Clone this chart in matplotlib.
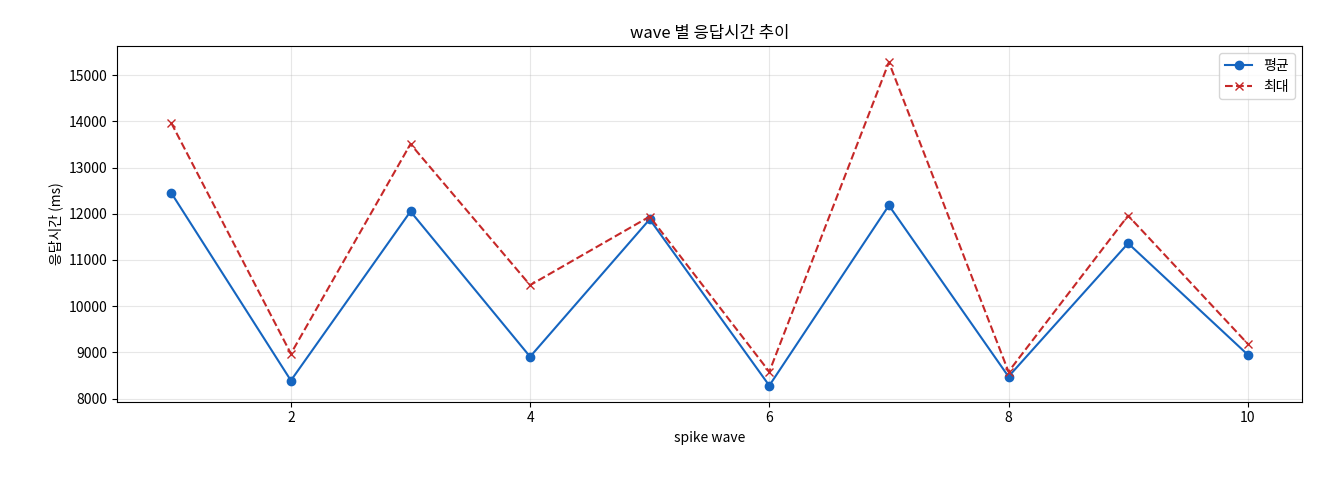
import matplotlib
matplotlib.use("Agg")
import matplotlib.pyplot as plt

plt.rcParams['font.family'] = ['Noto Sans CJK KR', 'DejaVu Sans']

waves = [1, 2, 3, 4, 5, 6, 7, 8, 9, 10]
mean_ms = [12450, 8390, 12050, 8905, 11880, 8280, 12180, 8475, 11360, 8950]
max_ms = [13965, 8970, 13510, 10455, 11940, 8580, 15280, 8580, 11960, 9185]

fig, ax = plt.subplots(figsize=(13.2, 4.8), dpi=100)
ax.plot(waves, mean_ms, marker='o', color='#1565c0', label='평균')
ax.plot(waves, max_ms, marker='x', linestyle='--', color='#c62828', label='최대')
ax.set_title('wave 별 응답시간 추이')
ax.set_xlabel('spike wave')
ax.set_ylabel('응답시간 (ms)')
ax.grid(True, alpha=0.3)
ax.legend(loc='upper right')
fig.subplots_adjust(left=0.089, right=0.986, top=0.904, bottom=0.163)
fig.savefig('out.png')
